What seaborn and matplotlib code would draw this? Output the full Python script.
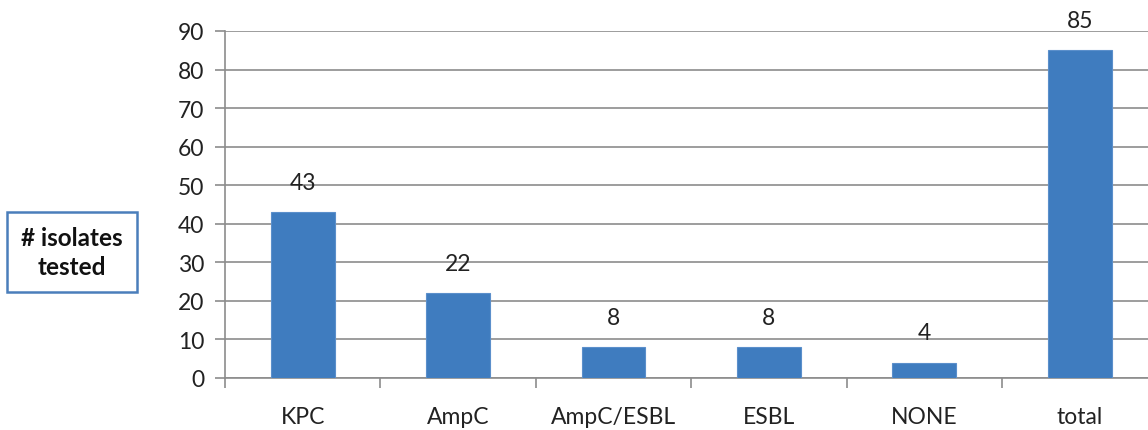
import matplotlib
matplotlib.use("Agg")
import matplotlib.pyplot as plt
import seaborn as sns
import pandas as pd
import numpy as np

categories = ["KPC", "AmpC", "AmpC/ESBL", "ESBL", "NONE", "total"]
isolates = [43, 22, 8, 8, 4, 85]
y_ticks = [0, 10, 20, 30, 40, 50, 60, 70, 80, 90]

sns.set_theme(style="white")
plt.rcParams['font.family'] = ['Lato', 'DejaVu Sans']

df = pd.DataFrame({"category": categories, "isolates": isolates})

fig = plt.figure(figsize=(11.48, 4.31), dpi=100)
ax = fig.add_axes([225 / 1148, 1 - 379 / 431, 1 - 225 / 1148, (379 - 32) / 431])

sns.barplot(data=df, x="category", y="isolates", color="#3F7CBF", width=0.41,
            saturation=1, edgecolor="#5B8FCB", linewidth=0.8, ax=ax, zorder=3)

ax.set_yticks(y_ticks)
ax.set_xticks(np.arange(-0.5, len(categories) + 0.5, 1), minor=True)
ax.set_ylim(0, 90)
ax.set_xlim(-0.5, (1148 - 225) / 155.4 - 0.5)
ax.yaxis.grid(True, color="#8c8c8c", linewidth=1.2, zorder=0)
ax.set_axisbelow(True)

for i, v in enumerate(isolates):
    ax.annotate(str(v), (i, v), xytext=(0, 14), textcoords="offset points",
                ha="center", va="bottom", fontsize=16.5, color="#222222")

for s in ["top", "right"]:
    ax.spines[s].set_visible(False)
for s in ["left", "bottom"]:
    ax.spines[s].set_color("#8c8c8c")
    ax.spines[s].set_linewidth(1.2)

ax.tick_params(axis="y", length=7, width=1.2, color="#8c8c8c", labelsize=16.5,
               labelcolor="#222222", pad=8, left=True)
ax.tick_params(axis="x", which="major", length=0, labelsize=16.5,
               labelcolor="#222222", pad=20)
ax.tick_params(axis="x", which="minor", length=7, width=1.2, color="#8c8c8c", bottom=True)
ax.set_xlabel("")
ax.set_ylabel("")

fig.text(72 / 1148, 1 - 253 / 431, "# isolates\ntested", ha="center", va="center",
         fontsize=17.5, fontweight="bold", color="#111111", linespacing=1.3,
         bbox=dict(boxstyle="square,pad=0.6", facecolor="white", edgecolor="#4A7EBB", linewidth=1.8))

fig.savefig("out.png", dpi=100)
